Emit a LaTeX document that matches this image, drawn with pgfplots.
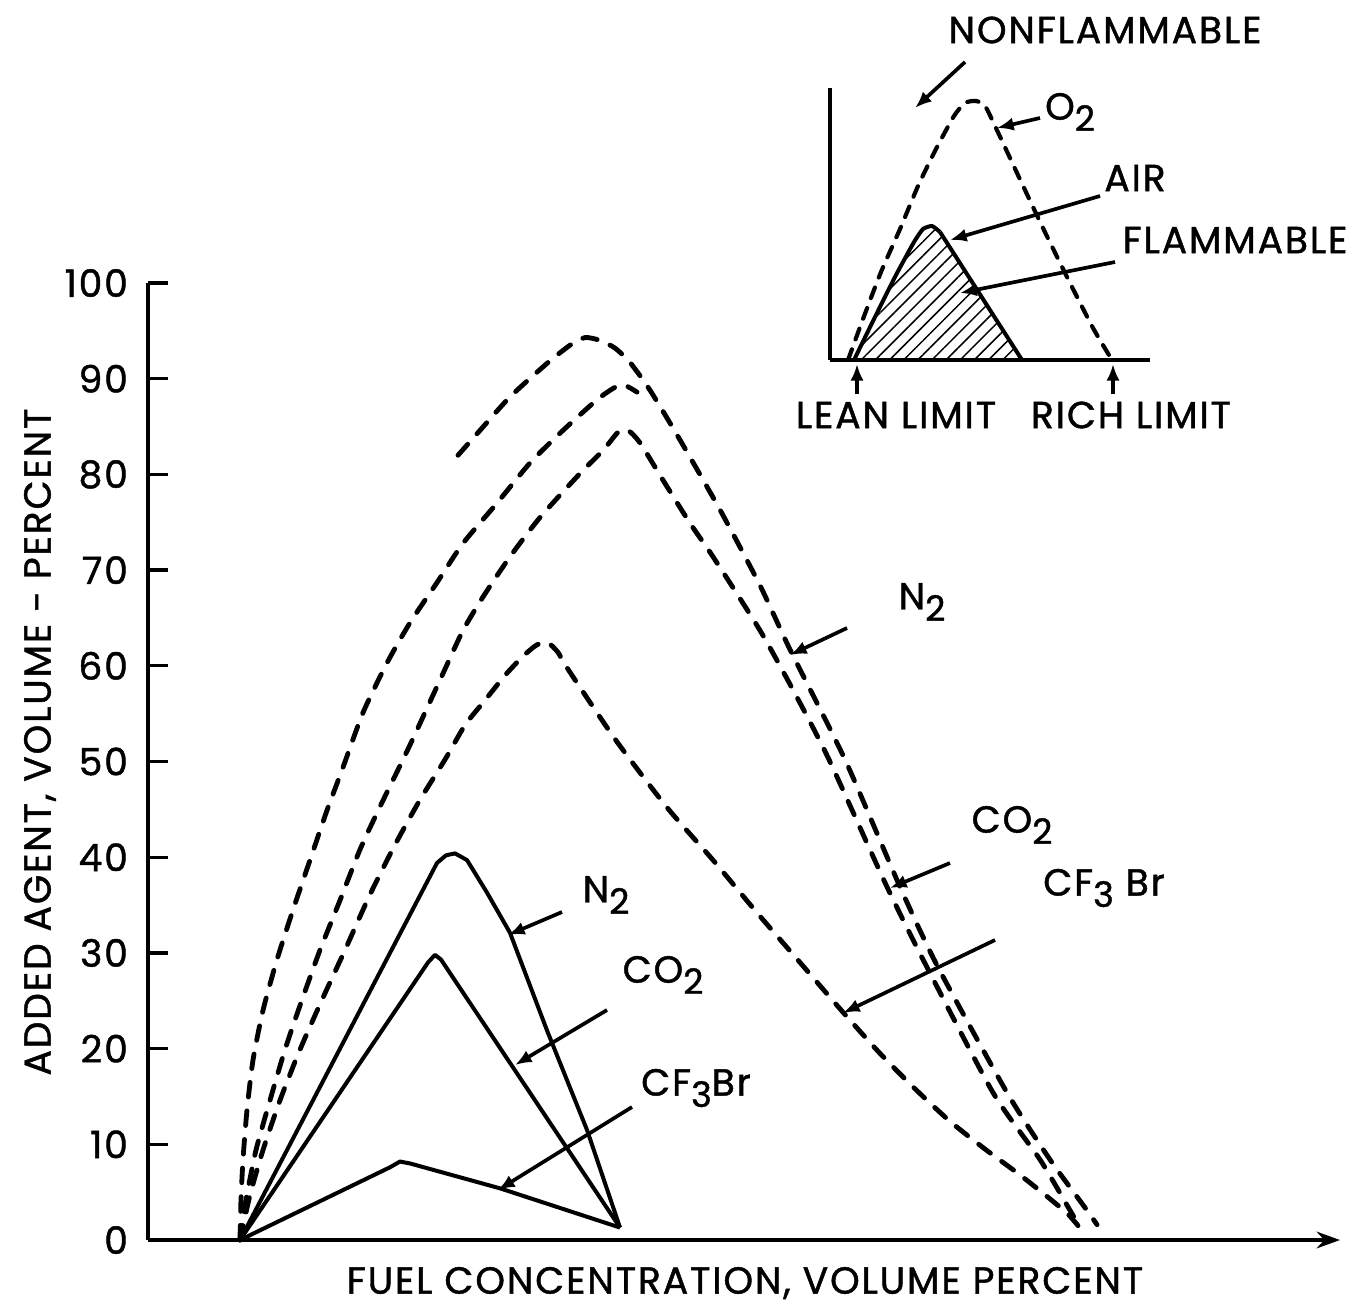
\documentclass[border=0pt]{standalone}
\usepackage{fontspec}
\setmainfont{Poppins}[LetterSpace=5, FakeBold=1.2]
\usepackage{pgfplots}
\pgfplotsset{compat=1.18}
\usetikzlibrary{arrows.meta,patterns.meta}
\newcommand{\sub}[1]{\raisebox{-0.55ex}{\fontsize{10.5}{11}\selectfont #1}}
\tikzset{
  dsh/.style={line width=1.45pt, dash pattern=on 4.4pt off 4.2pt, line cap=round},
  sol/.style={line width=1.2pt, line join=round},
  arr/.style={line width=1.1pt, -{Latex[length=5pt,width=4pt]}},
}
\begin{document}
\begin{tikzpicture}[font=\fontsize{11.3}{13}\selectfont]
\useasboundingbox (0,0) rectangle (406.2pt,391.8pt);

% main chart, x in units of the drawing, y in volume percent
\begin{axis}[
  at={(44.4pt,19.8pt)}, anchor=south west,
  scale only axis, width=357.6pt, height=287.1pt,
  xmin=0, xmax=119.2, ymin=0, ymax=100,
  axis lines=left,
  axis line style={line width=1pt},
  x axis line style={-{Stealth[length=7pt,width=5pt]}},
  y axis line style={-},
  xtick=\empty,
  ytick={0,10,...,100},
  tick align=inside, major tick length=6pt,
  tick style={line width=1pt, black},
  yticklabel style={/pgf/number format/assume math mode=true, xshift=-2.5pt},
  clip=false,
]
% dashed, outer N2 branch
\addplot[dsh, smooth, tension=0.4] coordinates {
  (31.0,82.0) (33.2,84.6) (36.2,88.1) (39.9,91.6) (42.2,93.5) (43.7,94.3)
  (45.2,94.0) (46.7,93.2) (48.2,91.7) (50.2,88.8) (53.2,83.6) (57.2,76.3)
  (61.2,68.4) (64.2,61.7) (69.7,50.2) (75.2,36.9) (79.0,28.5) (85.9,15.4)
  (90.2,8.4) (93.9,3.1) (94.9,1.6)
};
\addplot[dsh, smooth, tension=0.4] coordinates {
  (9.2,0) (9.3,4.2) (9.5,8.4) (9.9,13.6) (10.5,18.8) (11.5,24.0) (12.9,29.3)
  (14.5,34.5) (16.2,39.7) (17.9,44.9) (19.4,49.1) (21.5,55.1) (23.9,60.3)
  (26.2,64.5) (28.9,68.7) (31.5,72.8) (34.9,77.0) (38.2,81.2) (41.5,84.6)
  (44.9,87.8) (46.7,89.1) (47.7,89.3) (48.9,88.6)
};
% dashed CO2
\addplot[dsh, smooth, tension=0.4] coordinates {
  (9.2,0) (9.8,4.2) (10.8,9.4) (12.2,14.6) (13.7,19.9) (15.4,25.1) (17.2,30.3)
  (19.2,35.5) (21.2,40.8) (23.3,45.5) (25.5,50.2) (26.9,53.3) (29.5,59.2)
  (31.5,63.7) (33.5,67.2) (36.2,71.4) (39.2,75.5) (43.2,80.1) (45.5,82.5)
  (47.0,84.4) (48.0,84.6) (49.2,83.3) (51.5,79.4) (54.2,74.9) (56.5,71.4)
  (61.2,63.7) (64.8,56.9) (68.1,50.2) (73.9,36.9) (77.9,28.5) (84.5,15.4)
  (89.2,8.4) (92.2,3.1) (93.2,1.3)
};
% dashed CF3Br
\addplot[dsh, smooth, tension=0.4] coordinates {
  (9.2,0) (10.2,4.7) (11.5,9.4) (13.2,14.6) (15.2,19.9) (17.4,25.1) (19.7,30.3)
  (22.2,36.1) (24.7,41.3) (27.2,46.0) (29.7,50.2) (31.7,53.8) (33.7,56.4)
  (35.7,59.0) (37.5,61.0) (38.9,62.2) (40.0,62.4) (41.0,61.4) (41.9,59.8)
  (46.8,52.2) (51.9,45.2) (56.5,39.7) (60.9,34.2) (65.2,29.0) (69.5,23.8)
  (73.2,19.5) (76.7,15.8) (80.2,12.4) (83.7,9.5) (87.2,6.8) (90.2,4.3)
  (92.0,2.7) (93.0,1.5)
};
% solid N2, CO2, CF3Br
\addplot[sol] coordinates {
  (9.2,0) (28.9,39.4) (29.8,40.2) (30.7,40.4) (31.9,39.7) (33.9,36.3)
  (36.2,32.1) (39.9,21.9) (43.9,11.5) (47.2,1.3)
};
\addplot[sol] coordinates {
  (9.2,0) (28.0,29.0) (28.7,29.8) (29.3,29.3) (47.2,1.3)
};
\addplot[sol] coordinates {
  (9.2,0) (24.2,7.6) (25.2,8.2) (26.2,8.0) (35.2,5.4) (47.2,1.3)
};
\end{axis}

% inset: flammability diagram
\begin{axis}[
  at={(249pt,283.8pt)}, anchor=south west,
  scale only axis, width=96pt, height=81.6pt,
  xmin=0, xmax=320, ymin=0, ymax=272,
  axis lines=left, axis line style={-, line width=1pt},
  xtick=\empty, ytick=\empty, clip=false,
]
\addplot[draw=none, pattern={Lines[angle=45,distance=3pt,line width=0.45pt]}] coordinates {
  (24,0) (44,41) (66,85) (84,118) (93,131) (102,134) (110,128) (151,64) (192,0)
} \closedcycle;
\addplot[sol, smooth, tension=0.3] coordinates {
  (24,0) (44,41) (66,85) (84,118) (93,131) (102,134) (110,128)
};
\addplot[sol] coordinates {(110,128) (151,64) (192,0)};
\addplot[line width=1.25pt, dash pattern=on 3.4pt off 3.2pt, line cap=round, smooth, tension=0.4] coordinates {
  (18,0) (33,41) (51,88) (70,131) (88,174) (106,211) (124,244) (135,257)
  (146,259) (155,254) (165,234) (187,187) (212,134) (238,81) (263,32) (282,0)
};
\end{axis}

% labels and arrows, in pixel positions of the drawing
\begin{scope}[x=0.3pt, y=-0.3pt, yshift=391.8pt]
\node[rotate=90] at (40,742) {ADDED AGENT, VOLUME - PERCENT};
\node at (745,1283) {FUEL CONCENTRATION, VOLUME PERCENT};

\node at (922,602) {N\sub{2}};
\draw[arr] (847,628) -- (790,655);
\node at (1012,825) {CO\sub{2}};
\draw[arr] (950,863) -- (890,888);
\node at (1104,888) {CF\sub{3} Br};
\draw[arr] (995,940) -- (843,1013);

\node at (606,895) {N\sub{2}};
\draw[arr] (562,912) -- (508,935);
\node at (663,975) {CO\sub{2}};
\draw[arr] (607,1010) -- (515,1065);
\node at (696,1088) {CF\sub{3}Br};
\draw[arr] (632,1107) -- (498,1190);

\node at (1105,30) {NONFLAMMABLE};
\draw[arr] (965,62) -- (915,108);
\node at (1070,112) {O\sub{2}};
\draw[arr] (1040,118) -- (997,128);
\node at (1135,178) {AIR};
\draw[arr] (1100,196) -- (950,240);
\node at (1235,240) {FLAMMABLE};
\draw[arr] (1115,262) -- (960,293);
\node at (896,415) {LEAN LIMIT};
\node at (1131,415) {RICH LIMIT};
\draw[arr] (857,394) -- (857,364);
\draw[arr] (1113,394) -- (1113,364);
\end{scope}
\end{tikzpicture}
\end{document}
